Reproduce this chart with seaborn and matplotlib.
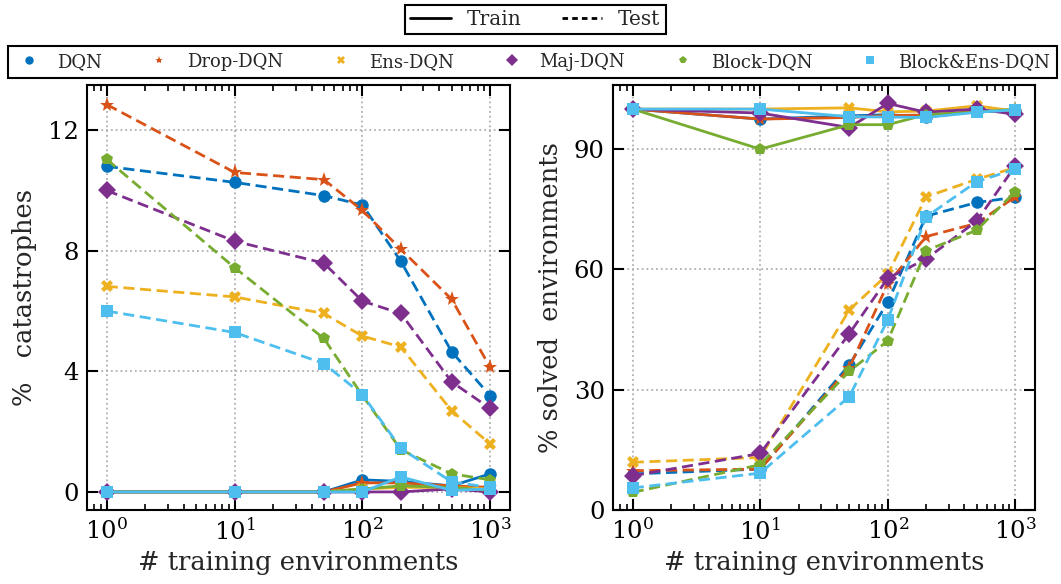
import matplotlib
matplotlib.use("Agg")
import matplotlib.pyplot as plt
from matplotlib.lines import Line2D
import pandas as pd
import seaborn as sns

sns.set_theme(style="ticks")
plt.rcParams["font.family"] = ["DejaVu Serif"]
plt.rcParams["mathtext.fontset"] = "dejavuserif"

# number of training environments
n_envs = [1, 10, 50, 100, 200, 500, 1000]

models = ["DQN", "Drop-DQN", "Ens-DQN", "Maj-DQN", "Block-DQN", "Block&Ens-DQN"]
colors = ["#0072BD", "#D95319", "#EDB120", "#7E2F8E", "#77AC30", "#4DBEEE"]
markers = ["o", "*", "X", "D", "p", "s"]

# % catastrophes (train)
cat_train = {
    "DQN":           [0, 0, 0, 0.40, 0.35, 0.20, 0.60],
    "Drop-DQN":      [0, 0, 0, 0.30, 0.30, 0.20, 0.15],
    "Ens-DQN":       [0, 0, 0, 0.10, 0.15, 0.15, 0.10],
    "Maj-DQN":       [0, 0, 0, 0.00, 0.00, 0.10, 0.00],
    "Block-DQN":     [0, 0, 0, 0.10, 0.20, 0.15, 0.05],
    "Block&Ens-DQN": [0, 0, 0, 0.00, 0.50, 0.05, 0.10],
}
# % catastrophes (test)
cat_test = {
    "DQN":           [10.8, 10.27, 9.83, 9.52, 7.65, 4.65, 3.19],
    "Drop-DQN":      [12.85, 10.6, 10.36, 9.34, 8.05, 6.39, 4.13],
    "Ens-DQN":       [6.82, 6.47, 5.92, 5.17, 4.81, 2.69, 1.59],
    "Maj-DQN":       [10.0, 8.32, 7.59, 6.33, 5.92, 3.65, 2.77],
    "Block-DQN":     [11.03, 7.44, 5.09, 3.20, 1.40, 0.60, 0.40],
    "Block&Ens-DQN": [6.0, 5.29, 4.26, 3.23, 1.45, 0.33, 0.15],
}
# % solved environments (train)
solved_train = {
    "DQN":           [100, 97.5, 98.3, 98.6, 98.0, 99.4, 99.5],
    "Drop-DQN":      [100, 97.5, 97.9, 98.4, 98.5, 99.4, 99.5],
    "Ens-DQN":       [100, 100, 100.3, 99.3, 99.5, 100.8, 99.5],
    "Maj-DQN":       [100, 99.0, 95.4, 101.4, 99.2, 100.0, 98.7],
    "Block-DQN":     [100, 90.0, 96.1, 96.1, 98.6, 99.2, 100],
    "Block&Ens-DQN": [100, 100, 98.1, 98.0, 97.9, 99.2, 99.8],
}
# % solved environments (test)
solved_test = {
    "DQN":           [9.0, 10.2, 36.2, 51.8, 73.3, 76.7, 78.0],
    "Drop-DQN":      [9.8, 10.2, 35.5, 56.4, 68.2, 71.5, 78.1],
    "Ens-DQN":       [11.9, 13.1, 49.9, 58.8, 78.1, 82.5, 85.4],
    "Maj-DQN":       [8.55, 14.1, 44.0, 57.8, 62.6, 72.1, 85.8],
    "Block-DQN":     [4.4, 11.3, 34.6, 42.2, 64.7, 69.8, 79.4],
    "Block&Ens-DQN": [5.5, 9.2, 28.3, 47.4, 73.1, 81.9, 85.0],
}


def draw_panel(ax, train, test, ylabel, yticks, ylim):
    for name, color, mk in zip(models, colors, markers):
        ms = 11 if mk == "*" else 9
        for vals, ls in ((train[name], "-"), (test[name], "--")):
            df = pd.DataFrame({"envs": n_envs, "value": vals})
            sns.lineplot(data=df, x="envs", y="value", ax=ax, color=color,
                         marker=mk, markersize=ms, markeredgewidth=0,
                         linestyle=ls, linewidth=2, dashes=False, sort=False,
                         estimator=None)
            if ls == "--":
                ax.lines[-1].set_dashes((4, 2))
    ax.set_xscale("log")
    ax.set_xlim(0.7, 1430)
    ax.set_ylim(*ylim)
    ax.set_yticks(yticks)
    ax.set_xlabel("# training environments", fontsize=18.5, labelpad=4)
    ax.set_ylabel(ylabel, fontsize=18.5, labelpad=8)
    ax.grid(True, which="major", linestyle=":", color="#b0b0b0", linewidth=1.3)
    ax.tick_params(which="both", direction="in", top=True, right=True,
                   labelsize=17.5, width=1.5, colors="black")
    ax.tick_params(which="major", length=8, pad=6)
    ax.tick_params(which="minor", length=4, width=1.2)
    for sp in ax.spines.values():
        sp.set_color("black")
        sp.set_linewidth(1.5)
    ax.set_axisbelow(True)


fig = plt.figure(figsize=(10.61, 5.84), dpi=100)
ax1 = fig.add_axes([87 / 1061, 74 / 584, 423 / 1061, 425 / 584])
ax2 = fig.add_axes([613 / 1061, 74 / 584, 422 / 1061, 425 / 584])

draw_panel(ax1, cat_train, cat_test, "%   catastrophes", [0, 4, 8, 12], (-0.6, 13.5))
draw_panel(ax2, solved_train, solved_test, "% solved  environments", [0, 30, 60, 90], (0, 106))

# legends
style_handles = [Line2D([], [], color="black", linestyle="-", linewidth=2),
                 Line2D([], [], color="black", linestyle="--", linewidth=2, dashes=(2, 1.5))]
leg1 = fig.legend(style_handles, ["Train", "Test"], ncol=2, loc="upper center",
                  bbox_to_anchor=(0.5047, 1 - 5 / 584), fontsize=14.5,
                  fancybox=False, edgecolor="black", framealpha=1,
                  handlelength=2.0, columnspacing=2.0, borderpad=0.25,
                  borderaxespad=0)
leg1.get_frame().set_linewidth(1.5)

model_handles = [Line2D([], [], color=c, marker=m, linestyle="none",
                        markersize=6, markeredgewidth=0)
                 for c, m in zip(colors, markers)]
leg2 = fig.legend(model_handles, models, ncol=6, loc="lower left",
                  bbox_to_anchor=(8 / 1061, (584 - 78) / 584, 1049 / 1061, 33 / 584),
                  mode="expand", fontsize=13, fancybox=False, edgecolor="black",
                  framealpha=1, handlelength=1.5, borderpad=0.4, borderaxespad=0)
leg2.get_frame().set_linewidth(1.5)

fig.savefig("out.png", dpi=100)
